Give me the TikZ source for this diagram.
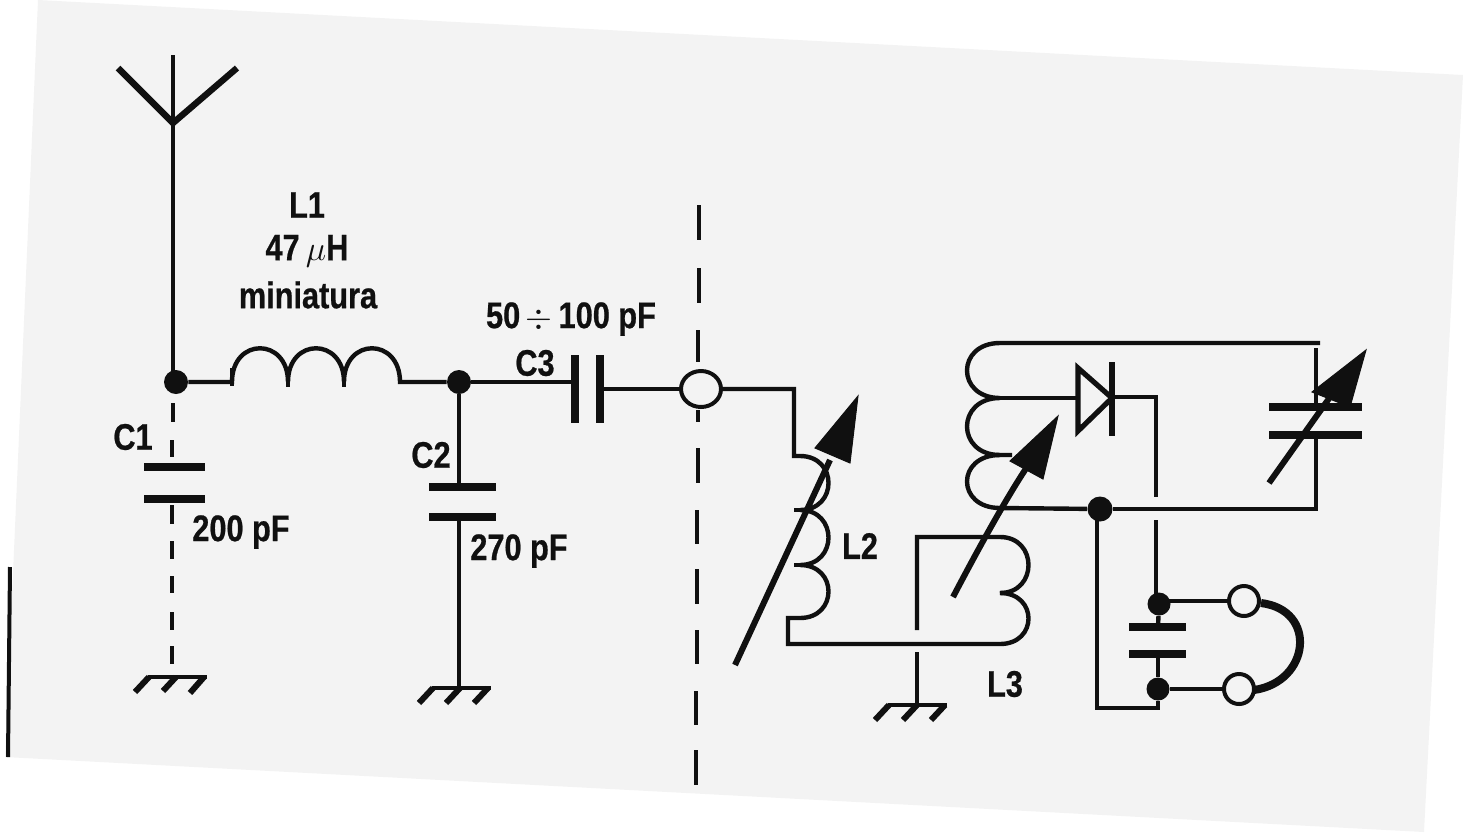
\documentclass[tikz,border=0pt]{standalone}
\usepackage{fontspec}
\newfontfamily\labfont[FakeStretch=0.83,BoldFeatures={FakeStretch=0.83,FakeBold=0.6}]{Liberation Sans}
\usetikzlibrary{calc,shapes.geometric}
\definecolor{paper}{HTML}{F3F3F3}
\definecolor{ink}{HTML}{101010}
\tikzset{
  wire/.style={draw=ink,line width=2.2pt,line join=miter},
  plate/.style={draw=ink,line width=4pt},
  cut/.style={draw=ink,line width=2.2pt},
  dot/.style={circle,fill=ink,inner sep=0pt,minimum size=12pt},
  port/.style={circle,draw=ink,line width=2pt,fill=paper,inner sep=0pt,minimum size=15pt},
  lab/.style={inner sep=0pt,text=ink,font=\labfont\bfseries\fontsize{18.5}{20}\selectfont},
  head/.style={fill=ink,draw=ink,line width=0.5pt,line join=miter},
  shaft/.style={draw=ink,line width=3pt},
  earth/.style={draw=ink,line width=2.2pt},
  tick/.style={draw=ink,line width=3pt}
}
\begin{document}
\begin{tikzpicture}[x=0.5pt,y=-0.5pt]
\useasboundingbox (0,0) rectangle (1463,832);
% sheet of paper
\fill[paper] (38,0) -- (1463,75) -- (1424,832) -- (5,757) -- cycle;
\draw[ink,line width=2pt] (10,567) -- (8,757);

% named points
\coordinate (atip) at (173,55);
\coordinate (afork) at (173,123);
\coordinate (aL) at (118,68);
\coordinate (aR) at (237,68);
\node[dot] (j1) at (176,382) {};
\node[dot] (j2) at (459,382) {};
\node[dot,minimum size=12.5pt] (j3) at (1100,509) {};
\node[dot,minimum size=11.5pt] (j4) at (1159,604) {};
\node[dot,minimum size=11.5pt] (j5) at (1158,689) {};
\node[ellipse,draw=ink,line width=2pt,fill=paper,inner sep=0pt,minimum width=20pt,minimum height=18pt] (conn) at (701,389) {};
\node[port] (ph1) at (1244,601) {};
\node[port] (ph2) at (1239,689) {};

% antenna
\draw[wire] (atip) -- (afork) -- (afork |- j1);
\draw[line width=3.2pt,draw=ink,line join=miter] (aL) -- (afork) -- (aR);

% L1
\draw[wire] (j1) -- (232,382)
  .. controls (232,337) and (288,337) .. (288,382)
  .. controls (288,337) and (344,337) .. (344,382)
  .. controls (344,337) and (400,337) .. (400,382) -- (j2);
\draw[wire] (288,368) -- (288,387) (344,368) -- (344,387) (232,368) -- (232,386);

% C1 and dashed earth lead
\draw[cut] (173,403) -- (173,422);
\draw[cut] (172,440) -- (172,457);
\draw[plate] (144,467) -- (205,467);
\draw[plate] (144,499) -- (205,499);
\foreach \a/\b in {505/524,541/559,576/593,612/630,646/664} \draw[cut] (172,\a) -- (172,\b);
\draw[earth] (148,677) -- (207,677);
\draw[tick] (149,677) -- (135,692) (176,677) -- (163,691) (204,677) -- (190,693);

% C2
\draw[wire] (j2) -- (459,487);
\draw[plate] (429,487) -- (496,487);
\draw[plate] (429,517) -- (496,517);
\draw[wire] (459,517) -- (459,688);
\draw[earth] (432,688) -- (491,688);
\draw[tick] (433,688) -- (419,703) (460,688) -- (446,703) (488,688) -- (474,703);

% C3
\draw[wire] (j2) -- (575,382);
\draw[plate] (575,355) -- (575,423);
\draw[plate] (600,355) -- (600,423);
\draw[wire] (600,389) -- (conn.west);

% dashed separation line
\foreach \a/\xa/\b/\xb in {205/699/240/699,268/699/303/699,330/698/362/698,410/698/422/698,448/698/483/698,510/697/544/697,569/697/604/697,630/697/664/697,691/696/725/696,750/696/785/696}
  \draw[cut] (\xa,\a) -- (\xb,\b);

% L2 with L3
\draw[wire] (conn.east) -- (794,389) -- (794,456) -- (800,456)
  .. controls (838,456) and (838,510) .. (800,510)
  .. controls (838,510) and (838,565) .. (800,565)
  .. controls (838,565) and (838,618) .. (800,618) -- (788,618) -- (788,644) -- (1000,644)
  .. controls (1038,644) and (1038,593) .. (1000,593) -- (1012,593);
\draw[wire] (794,510) -- (803,510) (794,565) -- (803,565);
\draw[wire] (1000,593) .. controls (1038,593) and (1038,537) .. (1000,537) -- (917,537) -- (917,630);
\draw[wire] (917,652) -- (917,705);
\draw[earth] (888,705) -- (947,705);
\draw[tick] (889,705) -- (875,720) (917,705) -- (903,720) (945,705) -- (931,720);

% arrow across L2
\draw[shaft] (735,665) -- (830,460);
\fill[head] (858,396) -- (815,448) -- (850,463) -- cycle;
% tuned coil
\draw[wire] (1320,343) -- (1000,343)
  .. controls (956,343) and (956,398) .. (1000,398)
  .. controls (956,398) and (956,455) .. (1000,455) -- (1012,455);
\draw[wire] (1000,455) .. controls (956,455) and (956,508) .. (1000,508) -- (j3);
\draw[wire] (1000,398) -- (1078,398);
\draw[wire] (j3) -- (1316,509) -- (1316,435);
% arrow across L3
\draw[shaft] (953,597) .. controls (975,555) and (1005,500) .. (1027,467);
\fill[head] (1058,416) -- (1010,461) -- (1043,479) -- cycle;

% diode
\draw[draw=ink,line width=2.6pt,fill=paper,line join=miter] (1078,368) -- (1078,431) -- (1112,398) -- cycle;
\draw[draw=ink,line width=2.6pt] (1112,362) -- (1112,436);
\draw[wire] (1112,397) -- (1156,397) -- (1156,497);
\draw[wire] (1156,520) -- (1156,604);

% output capacitor and earphones
\draw[plate] (1129,627) -- (1186,627);
\draw[plate] (1129,654) -- (1186,654);
\draw[wire] (j4) -- (1158,627);
\draw[wire] (1158,654) -- (j5);
\draw[wire] (1097,509) -- (1097,708) -- (1158,708) -- (j5);
\draw[wire] (1159,601) -- (ph1);
\draw[wire] (j5) -- (ph2);
\draw[draw=ink,line width=4pt] (ph1.east) ++(0,2) .. controls (1318,610) and (1310,682) .. (1254,690);

% variable capacitor
\draw[wire] (1316,348) -- (1316,407);
\draw[plate] (1269,407) -- (1362,407);
\draw[plate] (1269,435) -- (1362,435);
\draw[shaft] (1269,483) -- (1340,383);
\fill[head] (1366,350) -- (1312,392) -- (1350,407) -- cycle;

% labels
\node[lab] (tL1) at (307,205) {L1};
\node[lab] (tL1v) at (307,251) {47\,$\mu$H};
\node[lab] (tL1m) at (308,295) {miniatura};
\node[lab] (tC3v) at (571,319) {50$\,\div\,$100 pF};
\node[lab] (tC3) at (535,363) {C3};
\node[lab] (tC1) at (133,437) {C1};
\node[lab] (tC2) at (431,455) {C2};
\node[lab] (tC1v) at (241,532) {200 pF};
\node[lab] (tC2v) at (519,551) {270 pF};
\node[lab] (tL2) at (860,546) {L2};
\node[lab] (tL3) at (1005,684) {L3};
\end{tikzpicture}
\end{document}
